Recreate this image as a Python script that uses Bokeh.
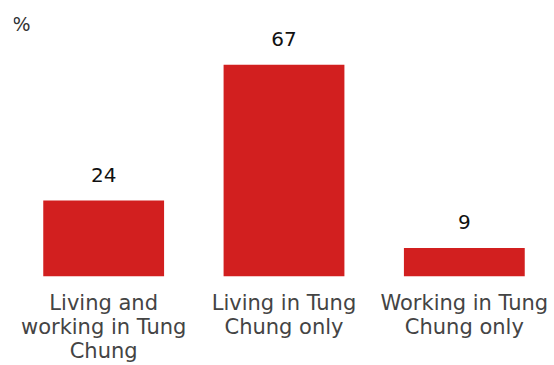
from bokeh.plotting import figure
from bokeh.models import ColumnDataSource, LabelSet, Range1d, Label
from bokeh.core.properties import value
from bokeh.embed import file_html
from bokeh.resources import INLINE

categories = ["Living and\nworking in Tung\nChung", "Living in Tung\nChung only", "Working in Tung\nChung only"]
values = [24, 67, 9]
value_labels = ["24", "67", "9"]
unit_text = "%"

src = ColumnDataSource(dict(cat=categories, val=values, lab=value_labels))

FONT = "DejaVu Sans"
p = figure(x_range=categories, y_range=Range1d(0, 87.3), width=554, height=365,
           output_backend="svg", toolbar_location=None,
           min_border_left=13, min_border_right=0, min_border_top=0, min_border_bottom=0)
p.x_range.range_padding = 0

p.vbar(x="cat", top="val", width=0.67, source=src, color="#d21f1f", line_color=None)

labels = LabelSet(x="cat", y="val", text="lab", source=src, text_align="center",
                  text_baseline="alphabetic", y_offset=19, text_font=value(FONT),
                  text_font_size="20px", text_color="#111111")
p.add_layout(labels)

unit = Label(x=-1, y=253, x_units="screen", y_units="screen", text=unit_text,
             text_font=FONT, text_font_size="19px", text_color="#333333",
             text_baseline="alphabetic", text_align="left")
p.add_layout(unit)

p.yaxis.visible = False
p.grid.visible = False
p.outline_line_color = None
p.xaxis.axis_line_color = None
p.xaxis.major_tick_line_color = None
p.xaxis.minor_tick_line_color = None
p.xaxis.major_label_text_font = FONT
p.xaxis.major_label_text_font_size = "21px"
p.xaxis.major_label_text_color = "#444444"
p.xaxis.major_label_standoff = 8
p.xaxis.major_label_text_line_height = 1.0

open("out.html", "w").write(file_html(p, INLINE))
